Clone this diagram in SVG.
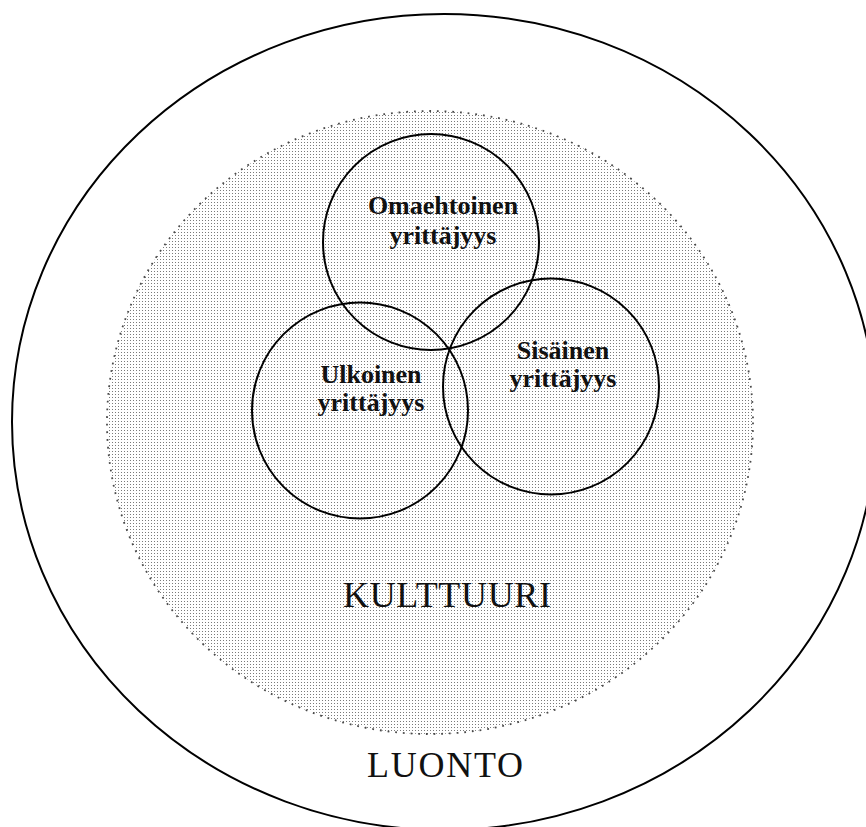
<svg xmlns="http://www.w3.org/2000/svg" width="866" height="827" viewBox="0 0 866 827">
  <defs>
    <pattern id="dots" x="0" y="0" width="3" height="3" patternUnits="userSpaceOnUse">
      <rect x="0" y="0" width="3" height="3" fill="#ffffff"/>
      <rect x="1" y="1" width="1" height="1" fill="#7a7a7a"/>
    </pattern>
  </defs>
  <style>
    .outline { fill: none; stroke: #000; stroke-width: 2; }
    .venn { fill: none; stroke: #000; stroke-width: 2; }
    .culture { fill: url(#dots); stroke: #4a4a4a; stroke-width: 1.8; stroke-dasharray: 1.8 5.9; stroke-linecap: butt; }
    .lbl { font-family: "Liberation Serif", "DejaVu Serif", serif; font-weight: bold; font-size: 26px; fill: #111; text-anchor: middle; }
    .big { font-family: "Liberation Serif", "DejaVu Serif", serif; font-size: 36px; fill: #111; text-anchor: middle; }
  </style>
  <rect width="866" height="827" fill="#ffffff"/>
  <g id="luonto">
    <ellipse class="outline" cx="444" cy="422" rx="432" ry="408"/>
    <text class="big" x="445" y="777" textLength="156" lengthAdjust="spacing">LUONTO</text>
  </g>
  <g id="kulttuuri">
    <ellipse class="culture" cx="430" cy="422.5" rx="323" ry="311.5"/>
    <text class="big" x="447" y="607" textLength="208" lengthAdjust="spacing">KULTTUURI</text>
  </g>
  <g id="omaehtoinen">
    <circle class="venn" cx="431" cy="242" r="108"/>
    <text class="lbl" x="443" y="214">Omaehtoinen</text>
    <text class="lbl" x="443" y="244">yrittäjyys</text>
  </g>
  <g id="ulkoinen">
    <circle class="venn" cx="360" cy="410.5" r="108"/>
    <text class="lbl" x="371" y="383">Ulkoinen</text>
    <text class="lbl" x="371" y="411">yrittäjyys</text>
  </g>
  <g id="sisainen">
    <circle class="venn" cx="551" cy="386.5" r="108"/>
    <text class="lbl" x="563" y="359">Sisäinen</text>
    <text class="lbl" x="563" y="387">yrittäjyys</text>
  </g>
  <g id="connectors"/>
</svg>
